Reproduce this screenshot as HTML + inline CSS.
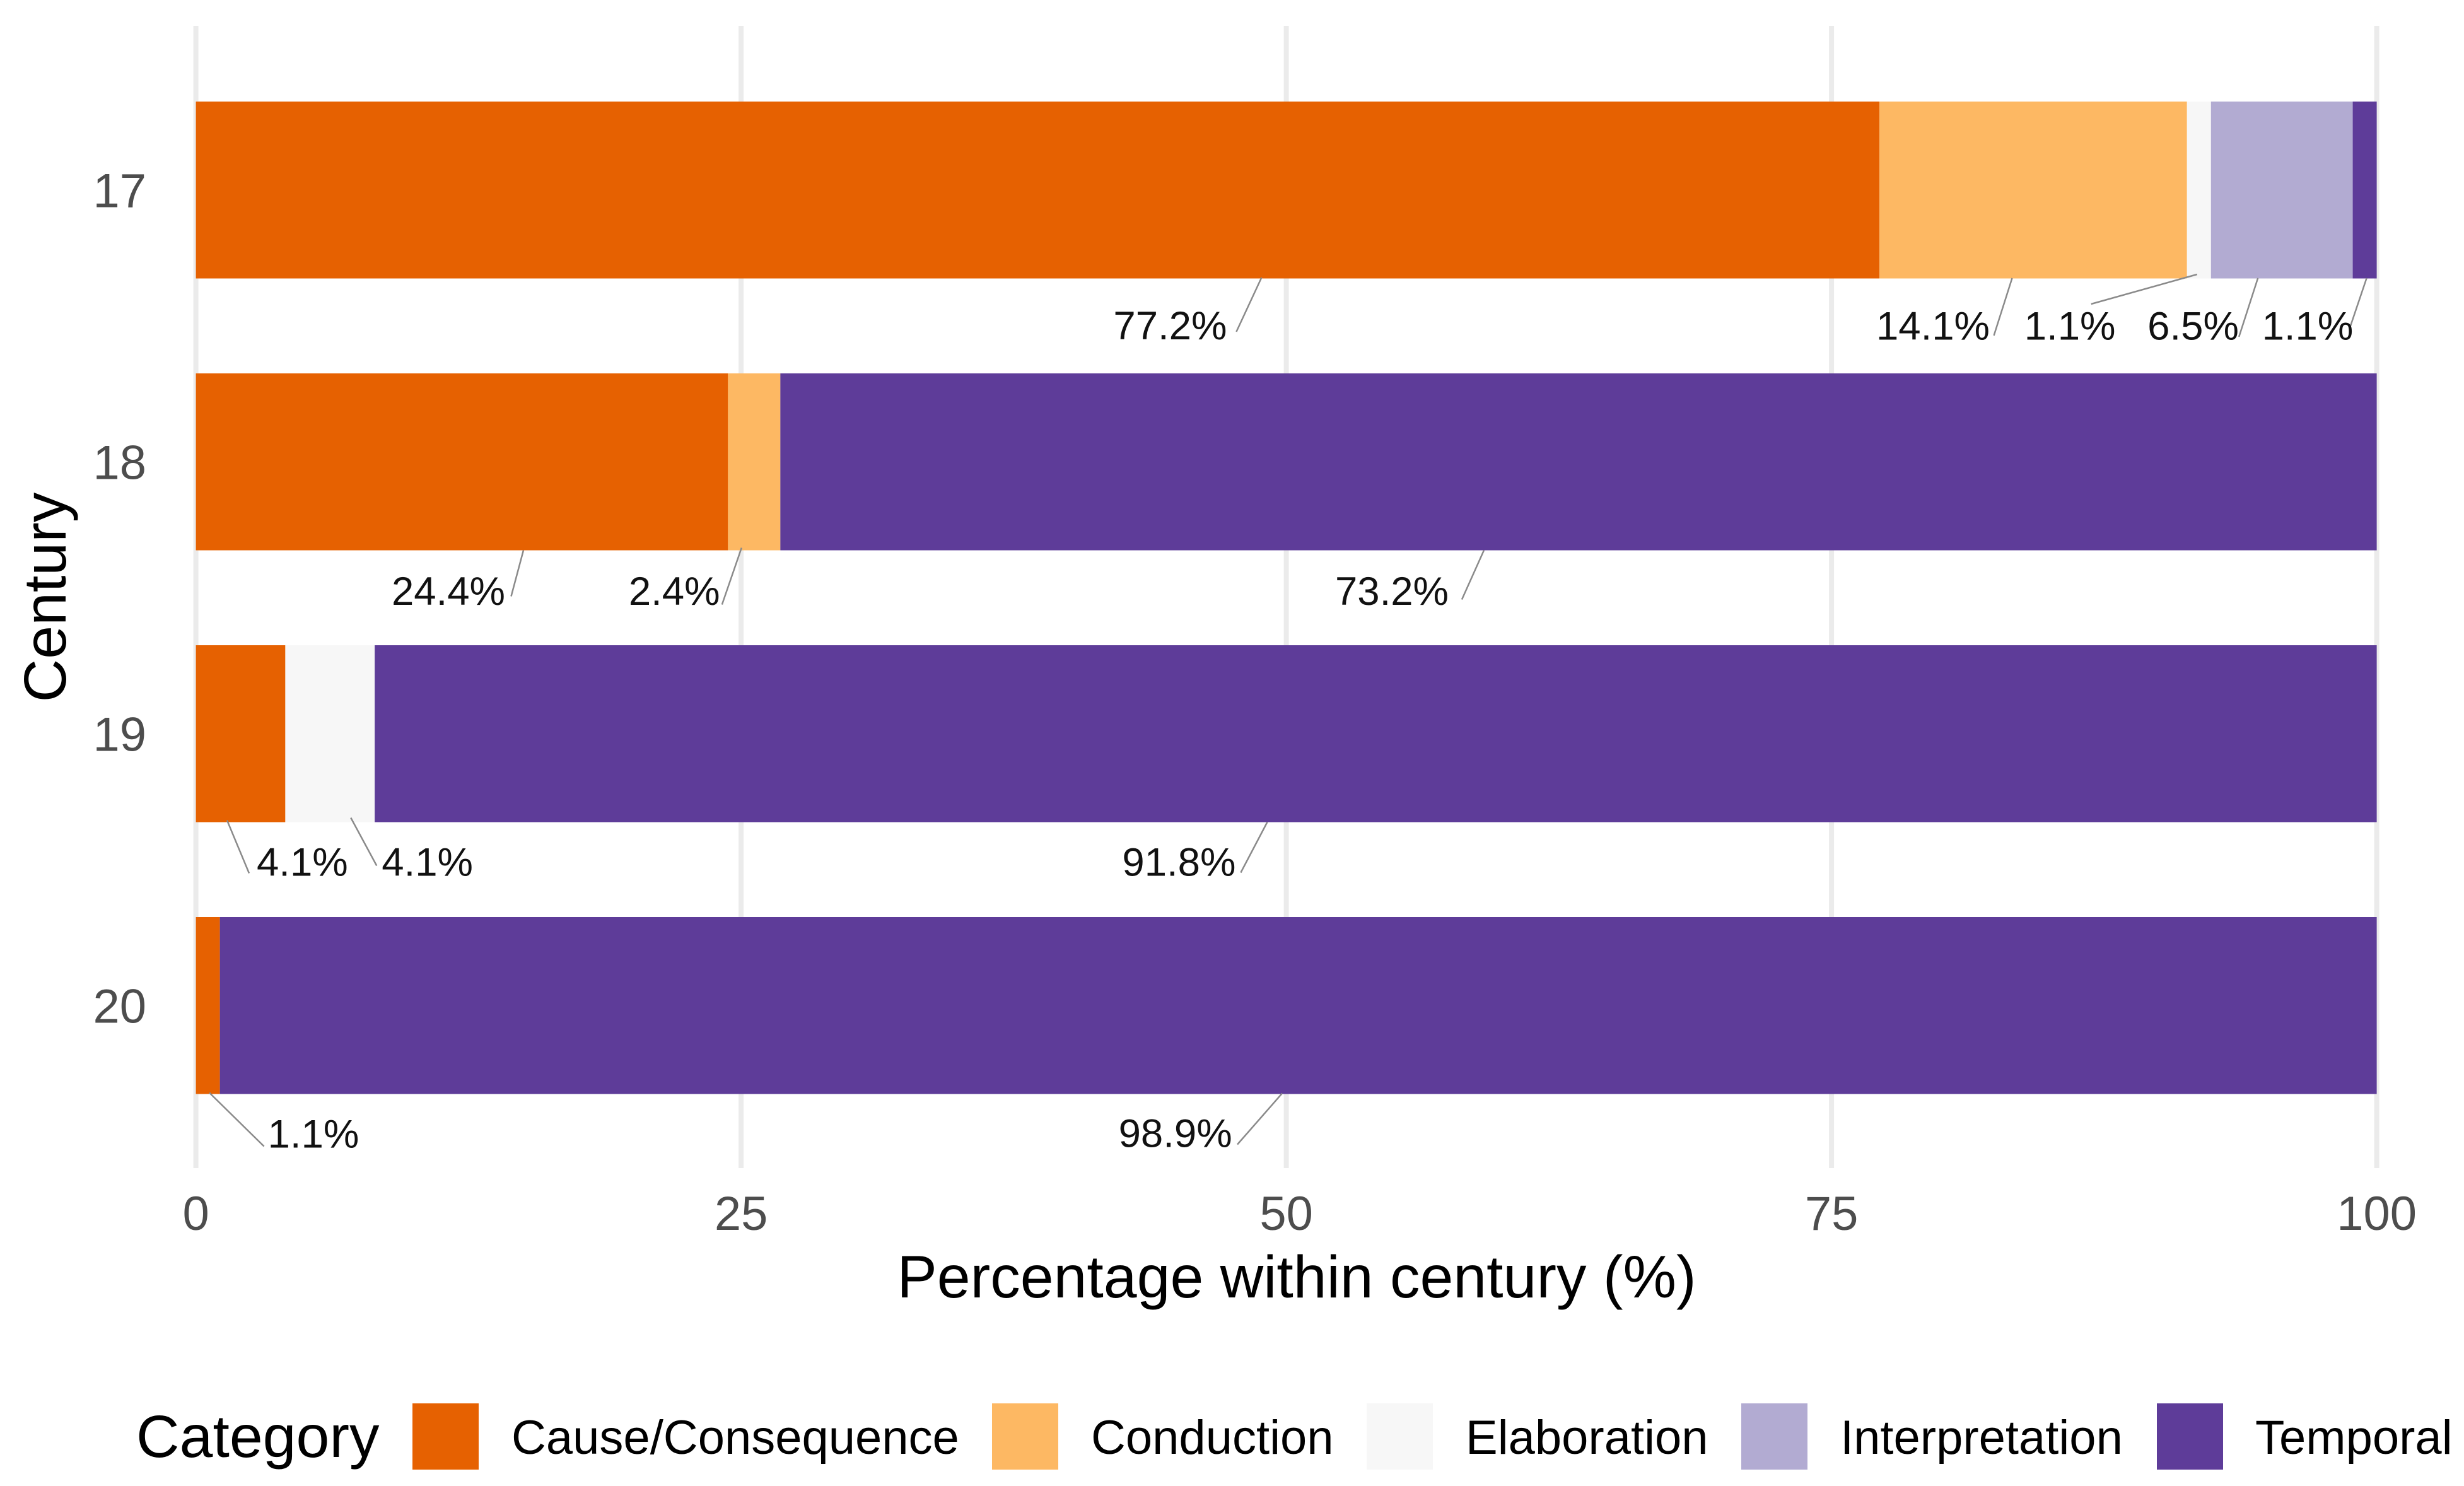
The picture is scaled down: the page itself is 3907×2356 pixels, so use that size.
<!DOCTYPE html>
<html lang="en">
<head>
<meta charset="utf-8">
<title>Percentage within century by category</title>
<style>
  html, body { margin: 0; padding: 0; background: #fff; }
  body { width: 3907px; height: 2356px; overflow: hidden; }
  svg { display: block; font-family: "Liberation Sans", Arial, sans-serif; }
</style>
</head>
<body>
<svg id="chart" xmlns="http://www.w3.org/2000/svg" width="3907" height="2356" viewBox="0 0 3907 2356">
  <rect x="0" y="0" width="3907" height="2356" fill="#ffffff"/>
</svg>
<script>
const centuries = ["17", "18", "19", "20"];
const categories = ["Cause/Consequence", "Conduction", "Elaboration", "Interpretation", "Temporal"];
const causeValues = [77.2, 24.4, 4.1, 1.1];
const conductionValues = [14.1, 2.4, 0, 0];
const elaborationValues = [1.1, 0, 4.1, 0];
const interpretationValues = [6.5, 0, 0, 0];
const temporalValues = [1.1, 73.2, 91.8, 98.9];
const xTicks = [0, 25, 50, 75, 100];
const categoryColors = ["#E66101", "#FDB863", "#F7F7F7", "#B2ABD2", "#5E3C99"];

const svg = document.getElementById('chart');
const NS = 'http://www.w3.org/2000/svg';

function make(tag, attrs, parent) {
  const el = document.createElementNS(NS, tag);
  for (const k in attrs) el.setAttribute(k, attrs[k]);
  (parent || svg).appendChild(el);
  return el;
}

function xScale(v) { return 310.6 + 34.58 * v; }
function yBand(i) { return 161 + 431 * i; }
const bandHeight = 280.5;

function slug(s) { return s.toLowerCase().replace(/[^a-z0-9]+/g, '-'); }

function drawGrid() {
  xTicks.forEach(function (t) {
    const line = make('line', { x1: xScale(t), x2: xScale(t), y1: 41, y2: 1852, stroke: '#ebebeb', 'stroke-width': 8 });
    
    
  });
}

function drawAxes() {
  xTicks.forEach(function (t) {
    const label = make('text', { x: xScale(t), y: 1950, 'text-anchor': 'middle', 'font-size': 76, fill: '#4d4d4d' });
    label.textContent = String(t);
    
    
  });
  centuries.forEach(function (c, i) {
    const label = make('text', { x: 232, y: yBand(i) + bandHeight / 2 + 27, 'text-anchor': 'end', 'font-size': 76, fill: '#4d4d4d' });
    label.textContent = c;
    
    
  });
  const xTitle = make('text', { x: 2056, y: 2057, 'text-anchor': 'middle', 'font-size': 95, fill: '#000' });
  xTitle.textContent = 'Percentage within century (%)';
  
  
  const yTitle = make('text', { x: 0, y: 0, 'text-anchor': 'middle', 'font-size': 95, fill: '#000', transform: 'translate(104 947) rotate(-90)' });
  yTitle.textContent = 'Century';
  
  
}

function seriesFor(c) {
  return [causeValues, conductionValues, elaborationValues, interpretationValues, temporalValues][c];
}

function drawBars() {
  centuries.forEach(function (century, r) {
    let cum = 0;
    categories.forEach(function (cat, c) {
      const v = seriesFor(c)[r];
      if (v > 0) {
        const bar = make('rect', { x: xScale(cum), y: yBand(r), width: xScale(cum + v) - xScale(cum), height: bandHeight, fill: categoryColors[c] });
        
        
      }
      cum += v;
    });
  });
}

/* Repelled-label layout: offsets relative to each segment's centre and the bar's bottom edge. */
function labelOffset(r, c) {
  const table = {
    '0-0': [355, -1.5, 315, 84.5, 120, 96.5],
    '0-1': [-33.5, -0.5, -62.4, 90.5, -249, 97],
    '0-2': [-3, -6.5, -171, 40.5, -277, 97],
    '0-3': [-38, -0.5, -68, 92.5, -213, 97],
    '0-4': [3, -0.5, -23, 76.5, -163, 97],
    '1-0': [97.5, 0, 78, 73, -111.5, 86.5],
    '1-1': [-20, -4, -51, 86, -199, 86.5],
    '1-4': [-150, 0, -185, 78, -386, 86.5],
    '2-0': [-21.5, -3, 13.5, 81, 25.5, 85],
    '2-2': [33, -7, 74, 69, 82, 85],
    '2-4': [-172, 0, -214, 80, -402, 85],
    '3-0': [2.4, -2, 89, 83, 95, 85],
    '3-4': [-25.6, -1, -96.6, 80, -285, 84]
  };
  return table[r + '-' + c] || [0, 0, 0, 60, -80, 86];
}

function drawLabels() {
  centuries.forEach(function (century, r) {
    const bottom = yBand(r) + bandHeight;
    let cum = 0;
    categories.forEach(function (cat, c) {
      const v = seriesFor(c)[r];
      if (v > 0) {
        const cx = xScale(cum + v / 2);
        const o = labelOffset(r, c);
        const leader = make('line', { x1: cx + o[0], y1: bottom + o[1], x2: cx + o[2], y2: bottom + o[3], stroke: '#8a8a8a', 'stroke-width': 2.5 });
        
        
        const text = make('text', { x: cx + o[4], y: bottom + o[5], 'font-size': 63.5, fill: '#111' });
        text.textContent = v.toFixed(1) + '%';
        
        
      }
      cum += v;
    });
  });
}

function drawLegend() {
  const title = make('text', { x: 216, y: 2310, 'font-size': 95, fill: '#000' });
  title.textContent = 'Category';
  
  
  const keyLeft = [654, 1573, 2167, 2761, 3420];
  const textLeft = [811, 1730, 2324, 2918, 3576];
  categories.forEach(function (cat, c) {
    const key = make('rect', { x: keyLeft[c], y: 2225, width: 105, height: 105, fill: categoryColors[c] });
    
    
    const label = make('text', { x: textLeft[c], y: 2305, 'font-size': 76, fill: '#000' });
    label.textContent = cat;
    
    
  });
}

drawGrid();
drawBars();
drawLabels();
drawAxes();
drawLegend();
</script>
</body>
</html>
